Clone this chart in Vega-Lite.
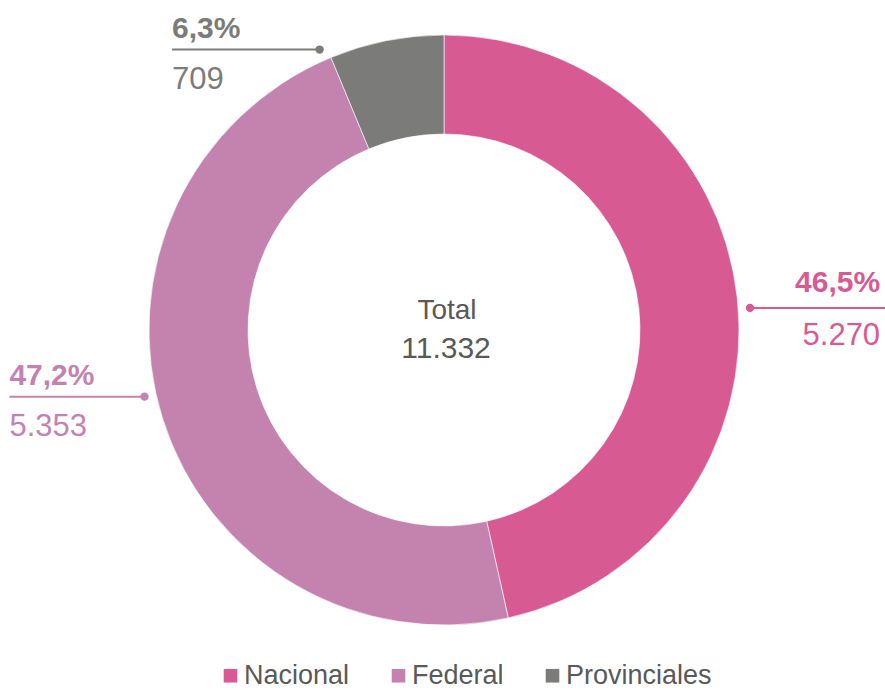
{
  "$schema": "https://vega.github.io/schema/vega-lite/v6.json",
  "width": 882,
  "height": 660,
  "autosize": {"type": "none"},
  "padding": {"left": 3, "top": 0, "right": 0, "bottom": 32},
  "config": {
    "font": "Liberation Sans",
    "view": {"stroke": null},
    "locale": {"number": {"decimal": ",", "thousands": ".", "grouping": [3], "currency": ["", " €"]}}
  },
  "data": {
    "values": [
      {"cat": "Nacional", "value": 5270, "order": 1},
      {"cat": "Federal", "value": 5353, "order": 2},
      {"cat": "Provinciales", "value": 709, "order": 3}
    ]
  },
  "transform": [
    {"joinaggregate": [{"op": "sum", "field": "value", "as": "total"}]},
    {"window": [{"op": "sum", "field": "value", "as": "cum"}], "sort": [{"field": "order"}], "frame": [null, 0]},
    {"calculate": "2 * PI * (datum.cum - datum.value / 2) / datum.total + (datum.cat == 'Provinciales' ? -0.221 : (datum.cat == 'Federal' ? 0.0874 : 0.0377))", "as": "ang"},
    {"calculate": "1.04 * sin(datum.ang)", "as": "px"},
    {"calculate": "1.04 * cos(datum.ang)", "as": "py"},
    {"calculate": "sin(datum.ang) > 0 ? 1 : -1", "as": "side"},
    {"calculate": "datum.px + datum.side * (datum.cat == 'Provinciales' ? 0.5 : 0.458)", "as": "ex"},
    {"calculate": "datum.value / datum.total", "as": "pct"}
  ],
  "layer": [
    {
      "mark": {"type": "arc", "outerRadius": 295, "innerRadius": 196, "stroke": "white", "strokeWidth": 0.6},
      "encoding": {
        "theta": {"field": "value", "type": "quantitative", "stack": true},
        "order": {"field": "order", "type": "quantitative"},
        "color": {
          "field": "cat", "type": "nominal",
          "scale": {"domain": ["Nacional", "Federal", "Provinciales"], "range": ["#D85A93", "#C383AE", "#7B7C79"]},
          "legend": {
            "title": null, "orient": "none", "direction": "horizontal", "legendX": 214, "legendY": 662,
            "symbolType": "square", "symbolSize": 185, "symbolStrokeWidth": 0, "symbolOpacity": 1,
            "labelFontSize": 27, "labelColor": "#595959", "labelOffset": 0, "columnPadding": 35
          }
        }
      }
    },
    {
      "mark": {"type": "rule", "strokeWidth": 2},
      "encoding": {
        "x": {"field": "px", "type": "quantitative", "scale": {"domain": [-1.49492, 1.49492], "nice": false, "zero": false}, "axis": null},
        "x2": {"field": "ex"},
        "y": {"field": "py", "type": "quantitative", "scale": {"domain": [-1.11864, 1.11864], "nice": false, "zero": false}, "axis": null},
        "color": {"field": "cat", "type": "nominal", "legend": null}
      }
    },
    {
      "mark": {"type": "point", "filled": true, "size": 70, "opacity": 1},
      "encoding": {
        "x": {"field": "px", "type": "quantitative"},
        "y": {"field": "py", "type": "quantitative"},
        "color": {"field": "cat", "type": "nominal", "legend": null}
      }
    },
    {
      "transform": [{"filter": "datum.side > 0"}],
      "mark": {"type": "text", "align": "right", "baseline": "alphabetic", "dx": -5, "dy": -16, "fontSize": 30, "fontWeight": "bold"},
      "encoding": {
        "x": {"field": "ex", "type": "quantitative"},
        "y": {"field": "py", "type": "quantitative"},
        "text": {"field": "pct", "type": "quantitative", "format": ".1%"},
        "color": {"field": "cat", "type": "nominal", "legend": null}
      }
    },
    {
      "transform": [{"filter": "datum.side > 0"}],
      "mark": {"type": "text", "align": "right", "baseline": "alphabetic", "dx": -5, "dy": 37, "fontSize": 31},
      "encoding": {
        "x": {"field": "ex", "type": "quantitative"},
        "y": {"field": "py", "type": "quantitative"},
        "text": {"field": "value", "type": "quantitative", "format": ",d"},
        "color": {"field": "cat", "type": "nominal", "legend": null}
      }
    },
    {
      "transform": [{"filter": "datum.side < 0"}],
      "mark": {"type": "text", "align": "left", "baseline": "alphabetic", "dy": -12, "fontSize": 30, "fontWeight": "bold"},
      "encoding": {
        "x": {"field": "ex", "type": "quantitative"},
        "y": {"field": "py", "type": "quantitative"},
        "text": {"field": "pct", "type": "quantitative", "format": ".1%"},
        "color": {"field": "cat", "type": "nominal", "legend": null}
      }
    },
    {
      "transform": [{"filter": "datum.side < 0"}],
      "mark": {"type": "text", "align": "left", "baseline": "alphabetic", "dy": 39, "fontSize": 31},
      "encoding": {
        "x": {"field": "ex", "type": "quantitative"},
        "y": {"field": "py", "type": "quantitative"},
        "text": {"field": "value", "type": "quantitative", "format": ",d"},
        "color": {"field": "cat", "type": "nominal", "legend": null}
      }
    },
    {
      "transform": [{"filter": "datum.order == 1"}],
      "mark": {"type": "text", "align": "center", "baseline": "middle", "dx": 3, "dy": -19, "fontSize": 28, "color": "#595959"},
      "encoding": {
        "x": {"datum": 0, "type": "quantitative"},
        "y": {"datum": 0, "type": "quantitative"},
        "text": {"value": "Total"}
      }
    },
    {
      "transform": [{"filter": "datum.order == 1"}],
      "mark": {"type": "text", "align": "center", "baseline": "middle", "dx": 2, "dy": 19, "fontSize": 30, "color": "#595959"},
      "encoding": {
        "x": {"datum": 0, "type": "quantitative"},
        "y": {"datum": 0, "type": "quantitative"},
        "text": {"field": "total", "type": "quantitative", "format": ",d"}
      }
    }
  ]
}
